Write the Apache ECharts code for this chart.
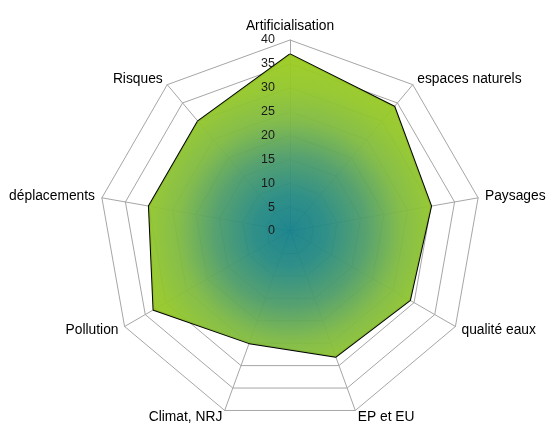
<!DOCTYPE html>
<html>
<head>
<meta charset="utf-8">
<script src="https://cdn.jsdelivr.net/npm/echarts@6/dist/echarts.min.js"></script>
<style>
  html, body { margin: 0; padding: 0; background: #fff; }
  #chart { width: 546px; height: 429px; }
</style>
</head>
<body>
<div id="chart"></div>
<script>
// Axes listed clockwise from the top
const categories = ['Artificialisation', 'espaces naturels', 'Paysages', 'qualité eaux',
  'EP et EU', 'Climat, NRJ', 'Pollution', 'déplacements', 'Risques'];
const scores = [37, 34, 30, 29, 28, 25, 33, 30, 30];
const tickLabels = ['0', '5', '10', '15', '20', '25', '30', '35', '40'];
const axisMax = 40;

// ECharts lays radar indicators out counter-clockwise, so keep the first and reverse the rest
const order = [0].concat(categories.map((_, i) => i).slice(1).reverse());

const FONT = 'Liberation Sans, Arial, sans-serif';
const CENTER = [290, 231];
const RADIUS = 191;

const gridIndicator = order.map(idx => ({ name: categories[idx], min: 0, max: axisMax }));
// Second radar only carries the value labels on the vertical axis, drawn above the fill
const labelIndicator = order.map((idx, k) => {
  const ind = { name: '', min: 0, max: axisMax };
  if (k === 0) {
    ind.axisLabel = {
      show: true,
      margin: 15,
      fontSize: 12.5,
      color: '#1a1a1a',
      fontFamily: FONT,
      formatter: v => tickLabels[Math.round(v / 5)] ?? String(v)
    };
  }
  return ind;
});
const values = order.map(idx => scores[idx]);

const chart = echarts.init(document.getElementById('chart'), null, { renderer: 'canvas' });
chart.setOption({
  animation: false,
  backgroundColor: '#ffffff',
  radar: [{
    center: CENTER,
    radius: RADIUS,
    startAngle: 90,
    shape: 'polygon',
    splitNumber: 8,
    nameGap: 7,
    indicator: gridIndicator,
    axisName: { color: '#000', fontSize: 13.8, fontFamily: FONT },
    axisLabel: { show: false },
    axisTick: { show: false },
    axisLine: { lineStyle: { color: '#a6a6a6', width: 1 } },
    splitLine: { lineStyle: { color: '#a6a6a6', width: 1 } },
    splitArea: { show: false }
  }, {
    center: CENTER,
    radius: RADIUS,
    startAngle: 90,
    shape: 'polygon',
    splitNumber: 8,
    z: 5,
    indicator: labelIndicator,
    axisName: { show: false },
    axisLabel: { show: false },
    axisTick: { show: false },
    axisLine: { show: false },
    splitLine: { show: false },
    splitArea: { show: false }
  }],
  series: [{
    type: 'radar',
    radarIndex: 0,
    symbol: 'none',
    z: 2,
    lineStyle: { color: '#000', width: 2 },
    areaStyle: {
      opacity: 0.95,
      color: {
        type: 'radial',
        x: CENTER[0], y: CENTER[1], r: 180,
        global: true,
        colorStops: [
          { offset: 0, color: '#14808a' },
          { offset: 0.2, color: '#258a82' },
          { offset: 0.42, color: '#4f9d68' },
          { offset: 0.62, color: '#7fba42' },
          { offset: 0.8, color: '#93c72a' },
          { offset: 1, color: '#9ccc1c' }
        ]
      }
    },
    data: [{ value: values, name: 'Score' }]
  }]
});
</script>
</body>
</html>
